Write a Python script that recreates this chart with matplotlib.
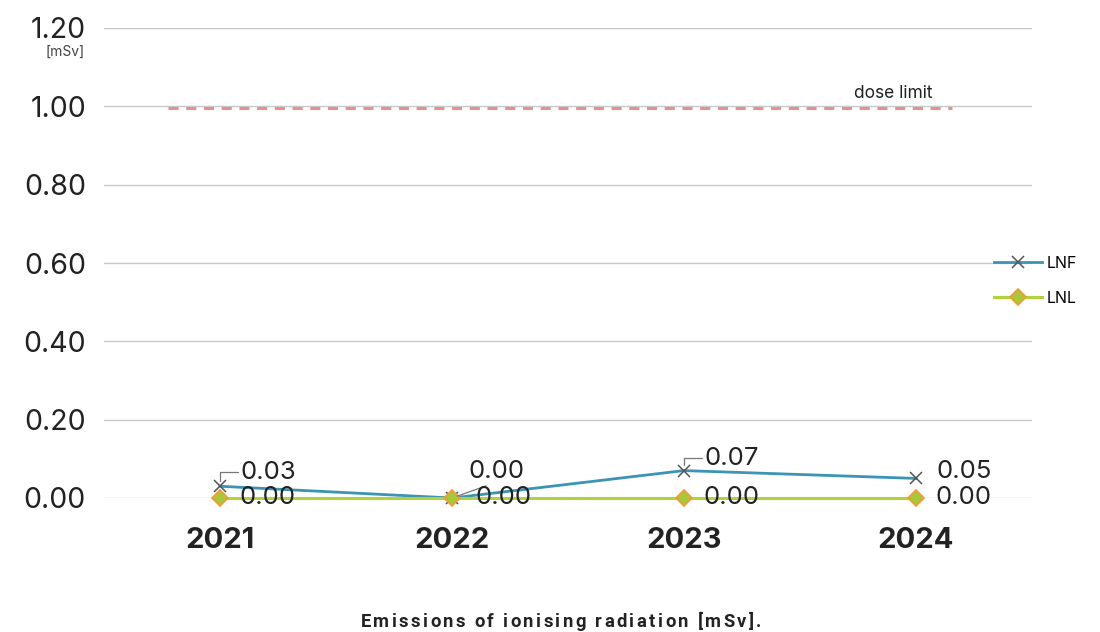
import matplotlib
matplotlib.use("Agg")
import matplotlib.pyplot as plt

years = ["2021", "2022", "2023", "2024"]
lnf = [0.03, 0.00, 0.07, 0.05]
lnl = [0.00, 0.00, 0.00, 0.00]
dose_limit = 1.00
yticks = [0.00, 0.20, 0.40, 0.60, 0.80, 1.00, 1.20]
title = "Emissions of ionising radiation [mSv]."

FONT = "Inter"
TXT = "#222222"

fig = plt.figure(figsize=(11, 6.32), dpi=100)
ax = fig.add_axes([104 / 1100, 1 - 498 / 632, 928 / 1100, (498 - 28) / 632])

x = list(range(len(years)))
ax.set_xlim(-0.5, len(years) - 0.5)
ax.set_ylim(0, 1.2)

for s in ax.spines.values():
    s.set_visible(False)
ax.set_yticks(yticks)
ax.set_yticklabels([f"{v:.2f}" for v in yticks], fontsize=20.5, family=FONT, color=TXT)
ax.set_xticks(x)
ax.set_xticklabels(years, fontsize=21, family=FONT, fontweight="bold", color=TXT)
ax.tick_params(axis="y", length=0, pad=13)
ax.tick_params(axis="x", length=0, pad=21)
ax.grid(axis="y", color="#c8c8c8", lw=1)
ax.set_axisbelow(True)

# dose limit reference
ax.plot([-0.225, 3.155], [dose_limit * 0.995] * 2, color="#e8908b", lw=2.2,
        ls=(0, (3.3, 2.5)), zorder=2)
ax.text(3.069, 1.012, "dose limit", fontsize=12.5, family=FONT, color=TXT,
        ha="right", va="bottom")

l1, = ax.plot(x, lnf, color="#3b94b4", lw=2, marker="x", ms=8, mec="#555555",
              mew=1.1, clip_on=False, zorder=4, label="LNF")
l2, = ax.plot(x, lnl, color="#b2d23c", lw=2.2, marker="D", ms=8, mfc="#a8c83a",
              mec="#f39a33", mew=1.2, clip_on=False, zorder=5, label="LNL")

lab = dict(fontsize=18.5, family=FONT, color=TXT, va="center", ha="left", zorder=10)
lead = dict(arrowstyle="-", color="#777777", lw=0.9, shrinkA=0, shrinkB=4)

# LNF labels
ax.annotate(f"{lnf[0]:.2f}", (0, lnf[0]), xytext=(15, 10), textcoords="offset points",
            arrowprops=dict(lead, connectionstyle="angle,angleA=0,angleB=90,rad=0",
                            relpos=(0, 0.5)), **lab)
ax.annotate(f"{lnf[1]:.2f}", (1, lnf[1]), xytext=(12, 19), textcoords="offset points",
            arrowprops=dict(lead, relpos=(0.45, 0.0)), **lab)
ax.annotate(f"{lnf[2]:.2f}", (2, lnf[2]), xytext=(15, 9), textcoords="offset points",
            arrowprops=dict(lead, connectionstyle="angle,angleA=0,angleB=90,rad=0",
                            relpos=(0, 0.5)), **lab)
ax.annotate(f"{lnf[3]:.2f}", (3, lnf[3]), xytext=(15, 5), textcoords="offset points", **lab)

# LNL labels
for i, v in enumerate(lnl):
    dx = 17 if i == 1 else 14
    ax.annotate(f"{v:.2f}", (i, v), xytext=(dx, 0), textcoords="offset points", **lab)

ax.text(-0.0205, 1.140, "[mSv]", transform=ax.get_yaxis_transform(), fontsize=10,
        family=FONT, color="#444444", ha="right", va="center")

fig.legend(handles=[l1, l2], loc="center left", bbox_to_anchor=(980 / 1100, 1 - 281 / 632),
           frameon=False, handlelength=3, labelspacing=1.25,
           handletextpad=0.25, prop=dict(family=FONT, size=11.5))

# letter-spaced caption
renderer = fig.canvas.get_renderer()
tkw = dict(fontsize=13.2, family="Roboto", fontweight="bold", color=TXT)
tracking = 2.4
probe = fig.text(0, 0, title, **tkw)
total = probe.get_window_extent(renderer).width + tracking * (len(title) - 1)
probe.remove()
x0 = 561 - total / 2
for i, ch in enumerate(title):
    if i:
        p = fig.text(0, 0, title[:i] + "|", **tkw)
        bar = fig.text(0, 0, "|", **tkw)
        w = p.get_window_extent(renderer).width - bar.get_window_extent(renderer).width
        p.remove()
        bar.remove()
    else:
        w = 0
    fig.text((x0 + w + tracking * i) / 1100, 1 - 622 / 632, ch, ha="left",
             va="center", **tkw)

fig.savefig("out.png", dpi=100)
